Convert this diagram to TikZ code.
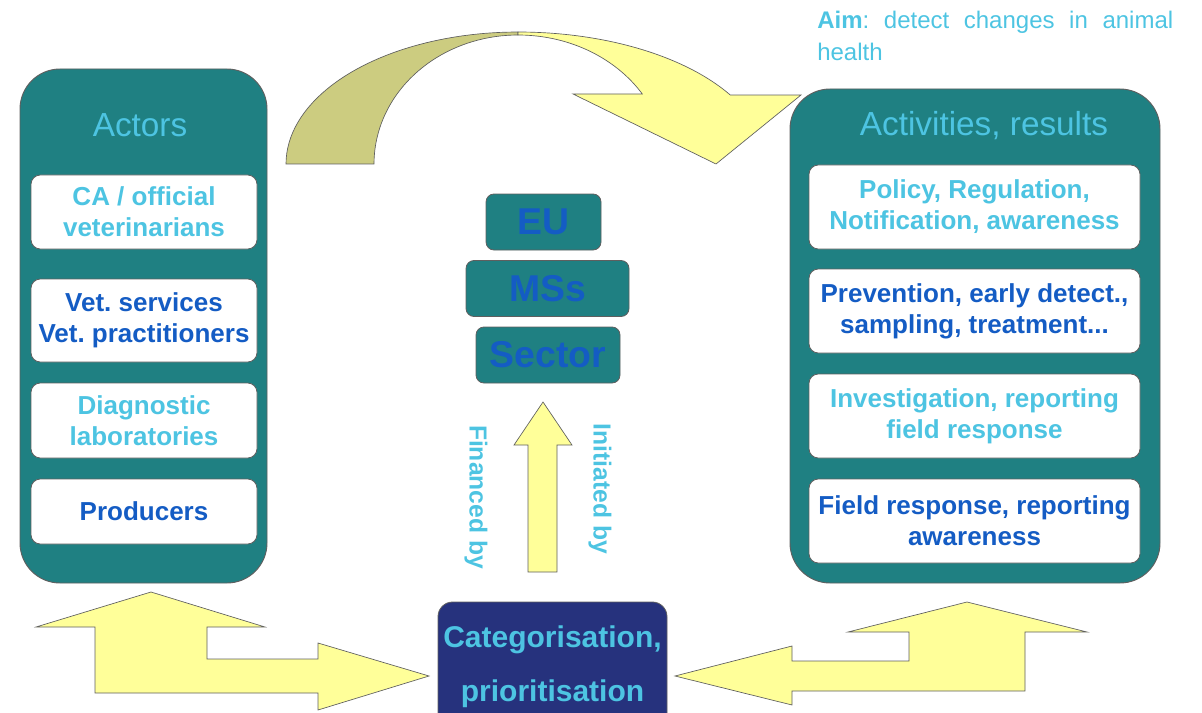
\documentclass[tikz,border=0pt]{standalone}
\usepackage{fontspec}
\setmainfont{Liberation Sans}
\frenchspacing
\definecolor{teal1}{RGB}{31,128,130}
\definecolor{lcyan}{RGB}{77,196,226}
\definecolor{dblue}{RGB}{20,92,196}
\definecolor{yel}{RGB}{255,255,153}
\definecolor{oliv}{RGB}{204,204,128}
\definecolor{navy1}{RGB}{38,50,125}
\definecolor{edge}{RGB}{95,95,95}
\begin{document}
\begin{tikzpicture}[x=0.75pt,y=-0.75pt,
  panel/.style={draw=edge, line width=0.7pt, fill=teal1, rounded corners=30pt, inner sep=0pt},
  title/.style={text=lcyan, font=\fontsize{25}{30}\selectfont},
  wbox/.style={draw=edge, line width=0.6pt, fill=white, rounded corners=7pt, inner sep=2pt, align=center, font=\bfseries\fontsize{19.5}{23.25}\selectfont},
  lbox/.style={wbox, minimum width=169.5pt},
  rbox/.style={wbox, minimum width=248.25pt, minimum height=63pt},
  cbox/.style={draw=edge, line width=0.6pt, fill=teal1, rounded corners=6pt, inner sep=2pt, minimum height=42pt, text=dblue, font=\bfseries\fontsize{28}{32}\selectfont},
  blockarrow/.style={fill=yel, draw=edge, line width=0.5pt},
  vlabel/.style={rotate=-90, text=lcyan, font=\bfseries\fontsize{18.5}{22}\selectfont}
]
\useasboundingbox (0,0) rectangle (1202,713);

% curved arrow (top)
\filldraw[fill=oliv, draw=edge, line width=0.5pt]
  plot[domain=180:90, samples=40] ({518+232*cos(\x)},{164-132*sin(\x)})
  -- plot[domain=90:180, samples=40] ({518+144*cos(\x)},{164-129*sin(\x)}) -- cycle;
\filldraw[blockarrow]
  plot[domain=90:31.5, samples=40] ({518+249*cos(\x)},{164-132*sin(\x)})
  -- (801,95) -- (716,164) -- (573,94)
  -- plot[domain=32.9:90, samples=40] ({518+148*cos(\x)},{164-129*sin(\x)}) -- cycle;

% aim text
\node[anchor=base west, text=lcyan, font=\fontsize{18}{24}\selectfont, inner sep=0pt] (aim) at (817,29) {\makebox[267pt][s]{\textbf{Aim}: detect changes in animal}};
\node[anchor=base west, text=lcyan, font=\fontsize{18}{24}\selectfont, inner sep=0pt] (aim2) at (817,61) {health};

% left panel
\node[panel, minimum width=185.25pt, minimum height=385.5pt] (actors) at (143.5,326) {};
\node[title] (actorsT) at (140,125) {Actors};
\node[lbox, minimum height=55.5pt, text=lcyan] (ca) at (144,212) {CA / official\\veterinarians};
\node[lbox, minimum height=62.25pt, text=dblue] (vet) at (144,320.5) {Vet. services\\Vet. practitioners};
\node[lbox, minimum height=56.25pt, text=lcyan] (diag) at (144,420.5) {Diagnostic\\laboratories};
\node[lbox, minimum height=48.75pt, text=dblue] (prod) at (144,511.5) {Producers};

% right panel
\node[panel, minimum width=277.5pt, minimum height=370.5pt] (act) at (975,336) {};
\node[title] (actT) at (984,126) {Activities, results};
\node[rbox, text=lcyan] (pol) at (974.5,207) {Policy, Regulation,\\Notification, awareness};
\node[rbox, text=dblue] (prev) at (974.5,311) {Prevention, early detect.,\\sampling, treatment...};
\node[rbox, text=lcyan] (inv) at (974.5,416) {Investigation, reporting\\field response};
\node[rbox, text=dblue] (field) at (974.5,521) {Field response, reporting\\awareness};

% centre stack
\node[cbox, minimum width=86.25pt] (eu) at (543.5,222) {EU};
\node[cbox, minimum width=122.25pt] (ms) at (547.5,288.5) {MSs};
\node[cbox, minimum width=108pt] (sector) at (548,355) {Sector};

% up arrow
\filldraw[blockarrow] (543,402) -- (572,445) -- (557,445) -- (557,572) -- (528,572) -- (528,445) -- (514,445) -- cycle;
\node[vlabel] (fin) at (476,497) {Financed by};
\node[vlabel] (ini) at (600,489) {Initiated by};

% categorisation
\node[draw=edge, line width=0.6pt, fill=navy1, rounded corners=11pt, inner sep=2pt,
  minimum width=171.75pt, minimum height=97.5pt, text=lcyan, align=center,
  font=\bfseries\fontsize{22.5}{40.5}\selectfont] (cat) at (552.5,667) {Categorisation,\\prioritisation};

% bottom bent arrows
\filldraw[blockarrow] (151,592) -- (265,627) -- (207,627) -- (207,659) -- (318,659) -- (318,643)
  -- (429,676) -- (318,710) -- (318,693) -- (95,693) -- (95,627) -- (36,627) -- cycle;
\filldraw[blockarrow] (967,602) -- (1087,632) -- (1025,632) -- (1025,691) -- (792,691) -- (792,705)
  -- (675,676) -- (792,646) -- (792,661) -- (909,661) -- (909,632) -- (848,632) -- cycle;
\end{tikzpicture}
\end{document}
